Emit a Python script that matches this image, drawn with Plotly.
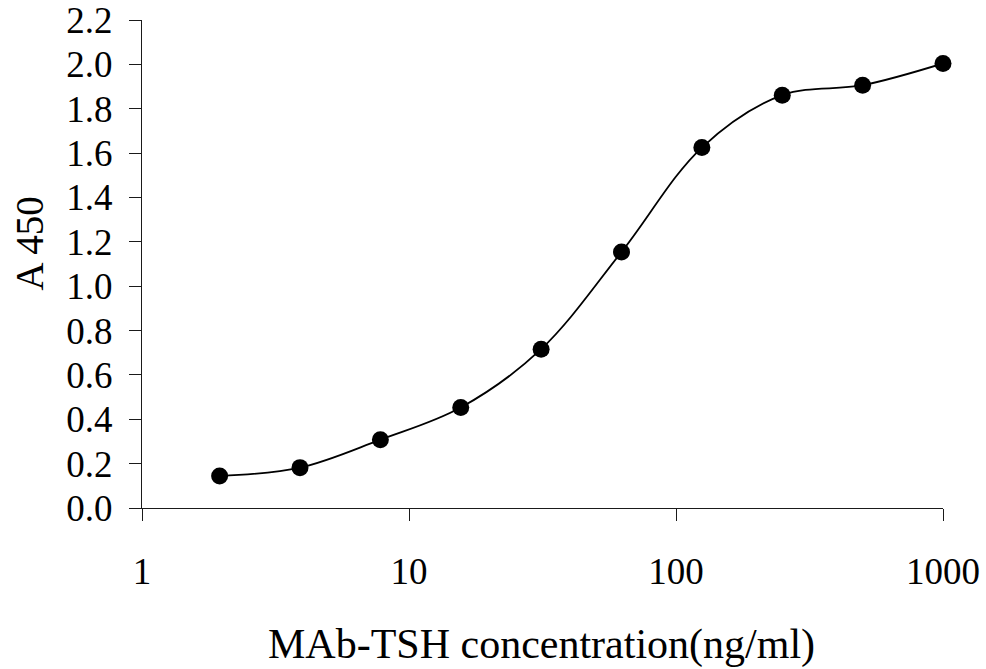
import plotly.graph_objects as go

# MAb-TSH two-fold serial dilution (ng/ml) and absorbance at 450 nm
conc = [1.953, 3.906, 7.8125, 15.625, 31.25, 62.5, 125, 250, 500, 1000]
a450 = [0.144, 0.182, 0.308, 0.453, 0.716, 1.154, 1.625, 1.861, 1.906, 2.004]

x_ticks = [1, 10, 100, 1000]
x_tick_text = ["1", "10", "100", "1000"]
y_ticks = [0.0, 0.2, 0.4, 0.6, 0.8, 1.0, 1.2, 1.4, 1.6, 1.8, 2.0, 2.2]

FONT = "Liberation Serif"
INK = "#1a1a1a"

fig = go.Figure(
    go.Scatter(
        x=conc,
        y=a450,
        mode="lines+markers",
        line=dict(color="black", width=1.8, shape="spline", smoothing=1.0),
        marker=dict(color="black", size=17),
        cliponaxis=False,
        showlegend=False,
    )
)

axis_common = dict(
    showline=True,
    linecolor=INK,
    linewidth=1.3,
    ticks="outside",
    ticklen=12,
    tickwidth=1.3,
    tickcolor=INK,
    showgrid=False,
    zeroline=False,
    automargin=False,
    ticklabeloverflow="allow",
    tickfont=dict(family=FONT, size=37, color="black"),
)

fig.update_xaxes(
    type="log",
    range=[0, 3],
    tickvals=x_ticks,
    ticktext=x_tick_text,
    ticklabelstandoff=18,
    **axis_common,
)
fig.update_yaxes(
    range=[0, 2.2],
    tickvals=y_ticks,
    ticktext=[f"{v:.1f}" for v in y_ticks],
    ticklabelstandoff=9,
    **axis_common,
)

fig.add_annotation(
    text="MAb-TSH concentration(ng/ml)",
    xref="paper", yref="paper",
    x=0.499, y=-0.28,
    xanchor="center", yanchor="middle",
    showarrow=False,
    font=dict(family=FONT, size=42, color="black"),
)
fig.add_annotation(
    text="A 450",
    xref="paper", yref="paper",
    x=-0.141, y=0.542,
    xanchor="center", yanchor="middle",
    textangle=-90,
    showarrow=False,
    font=dict(family=FONT, size=39, color="black"),
)

fig.update_layout(
    width=986,
    height=669,
    margin=dict(l=142, r=43, t=20, b=161),
    paper_bgcolor="white",
    plot_bgcolor="white",
)

fig.write_html("out.html")
